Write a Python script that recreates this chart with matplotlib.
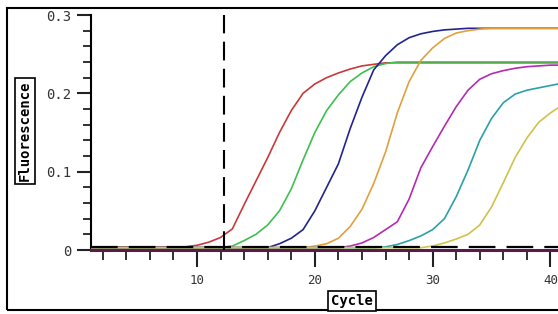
import matplotlib
matplotlib.use("Agg")
import matplotlib.pyplot as plt
from matplotlib.patches import Rectangle
import numpy as np

cycles = list(range(1, 42))

# fluorescence, one value per cycle (1..41)
red = [0.004] * 9 + [0.006, 0.010, 0.016, 0.027, 0.058, 0.088, 0.118, 0.150, 0.178,
                     0.200, 0.212, 0.220, 0.226, 0.231, 0.235, 0.237] + [0.239] * 16
green = [0.003] * 12 + [0.005, 0.012, 0.020, 0.032, 0.050, 0.078, 0.115, 0.150, 0.178,
                        0.198, 0.215, 0.226, 0.234, 0.238] + [0.240] * 15
blue = [0.003] * 16 + [0.008, 0.015, 0.026, 0.050, 0.080, 0.110, 0.155, 0.195, 0.230,
                       0.248, 0.262, 0.271, 0.276, 0.279, 0.281, 0.282] + [0.283] * 9
orange = [0.003] * 19 + [0.005, 0.008, 0.015, 0.030, 0.052, 0.085, 0.125, 0.175, 0.215,
                         0.242, 0.258, 0.270, 0.277, 0.280, 0.282] + [0.283] * 7
magenta = [0.003] * 22 + [0.005, 0.009, 0.016, 0.026, 0.036, 0.065, 0.105, 0.132, 0.158,
                          0.183, 0.204, 0.218, 0.225, 0.229, 0.232, 0.234, 0.235, 0.236, 0.236]
cyan = [0.003] * 25 + [0.004, 0.007, 0.012, 0.018, 0.026, 0.040, 0.068, 0.102, 0.140,
                       0.168, 0.188, 0.199, 0.204, 0.207, 0.210, 0.213]
yellow = [0.003] * 29 + [0.005, 0.009, 0.014, 0.020, 0.032, 0.055, 0.086, 0.118, 0.143,
                         0.163, 0.175, 0.185]

series = [(red, "#c83a3a"), (green, "#3fbf4f"), (blue, "#23238f"), (orange, "#e0a040"),
          (magenta, "#b42ab4"), (cyan, "#2aa0a8"), (yellow, "#cfc24a")]

threshold = 0.004
start_cycle = 12.25

fig = plt.figure(figsize=(5.58, 3.14), dpi=100)
fig.patch.set_facecolor("white")
ax = fig.add_axes([91 / 558, 64 / 314, 1 - 91 / 558, 235 / 314])

for vals, col in series:
    ax.plot(cycles, vals, color=col, lw=1.2, zorder=3)

ax.axhline(threshold, color="black", lw=1.6, dashes=(12, 5), zorder=4)
ax.axvline(start_cycle, color="black", lw=1.5, dashes=(9, 4), zorder=4)

ax.set_xlim(1, 40.64)
ax.set_ylim(0, 0.3)
ax.spines["top"].set_visible(False)
ax.spines["right"].set_visible(False)
ax.spines["left"].set_linewidth(1.5)
ax.spines["bottom"].set_linewidth(2.2)
ax.spines["bottom"].set_color("#5a1a4a")

ax.set_xticks([10, 20, 30, 40])
ax.set_xticks(np.arange(2, 41, 2), minor=True)
ax.set_yticks([0, 0.1, 0.2, 0.3])
ax.set_yticks(np.arange(0, 0.3, 0.02), minor=True)
ax.set_yticklabels(["0", "0.1", "0.2", "0.3"])
ax.tick_params(which="major", width=1.5, color="#222222", labelcolor="#333333")
ax.tick_params(which="minor", width=1.3, color="#222222")
ax.tick_params(axis="x", which="major", length=12, pad=5, labelsize=9)
ax.tick_params(axis="x", which="minor", length=7)
ax.tick_params(axis="y", which="major", length=10, pad=4, labelsize=10)
ax.tick_params(axis="y", which="minor", length=6)
for lab in ax.get_xticklabels() + ax.get_yticklabels():
    lab.set_family("DejaVu Sans Mono")

box = dict(boxstyle="square,pad=0.2", fc="white", ec="black", lw=1.2)
fig.text(352 / 558, 1 - 301 / 314, "Cycle", ha="center", va="center",
         family="DejaVu Sans Mono", weight="bold", fontsize=10, bbox=box)
fig.text(25 / 558, 1 - 131 / 314, "Fluorescence", ha="center", va="center",
         rotation=90, family="DejaVu Sans Mono", weight="bold", fontsize=10, bbox=box)

# outer frame of the screenshot
fig.patches.append(Rectangle((7 / 558, 4 / 314), 1.2, 302 / 314, transform=fig.transFigure,
                             fill=False, ec="black", lw=1.5))

fig.savefig("out.png", dpi=100)
